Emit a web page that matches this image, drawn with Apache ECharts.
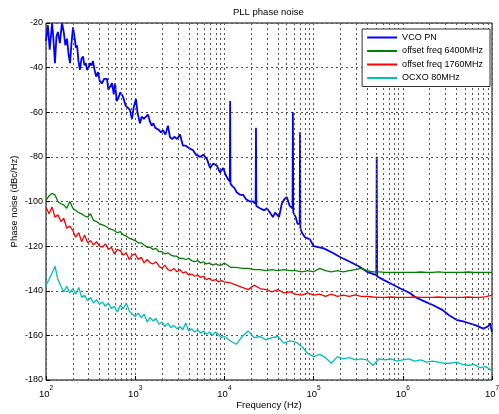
<!DOCTYPE html>
<html>
<head>
<meta charset="utf-8">
<script src="https://cdn.jsdelivr.net/npm/echarts@6/dist/echarts.min.js"></script>
<style>
  html, body { margin: 0; padding: 0; background: #fff; }
  #chart { width: 499px; height: 414px; }
</style>
</head>
<body>
<div id="chart"></div>
<script>
// offset frequencies (Hz), shared by the three reference curves
const freq = [
  100, 108, 117, 126, 136, 147, 158, 171, 185, 200, 215, 233, 251, 271, 293,
  316, 341, 369, 398, 430, 464, 501, 541, 584, 631, 681, 736, 794, 858, 926,
  1000, 1080, 1170, 1260, 1360, 1470, 1580, 1710, 1850, 2000, 2150, 2330, 2510, 2710, 2930,
  3160, 3410, 3690, 3980, 4300, 4640, 5010, 5410, 5840, 6310, 6810, 7360, 7940, 8580, 9260,
  10000, 11700, 13600, 15800, 18500, 21500, 25100, 29300, 34100, 39800, 46400, 54100, 63100, 73600, 85800,
  100000, 117000, 136000, 158000, 185000, 215000, 251000, 293000, 341000, 398000, 464000, 541000, 631000, 736000, 858000,
  1000000, 1170000, 1360000, 1580000, 1850000, 2150000, 2510000, 2930000, 3410000, 3980000, 4640000, 5410000, 6310000, 7360000, 8580000,
  10000000
];

// offset freq 6400MHz (dBc/Hz)
const pn6400 = [
  -99.5, -97.5, -96.3, -97, -100, -101, -101.5, -103, -100, -103, -104, -105, -105.5, -106.5, -107,
  -105.5, -108.5, -109, -110, -110.5, -111, -112, -112.5, -113, -114, -113.5, -115, -115.5, -116.5, -117,
  -117.5, -118.5, -118.5, -119.5, -120.5, -120.5, -121.5, -121, -122.5, -122.5, -123.5, -123, -124, -124.5, -124.5,
  -125.5, -125.5, -126, -125.5, -126.5, -127, -126.5, -127.5, -127, -128, -127.5, -128.5, -128, -128.5, -128.5,
  -127.6, -129.5, -129.5, -130, -130, -130.5, -130.5, -131, -130.5, -131, -130.5, -131, -131, -131.5, -131,
  -131.5, -130, -131, -131.5, -131, -131.5, -131, -130.5, -130, -131, -131.5, -131.5, -131.8, -131.8, -131.8,
  -131.8, -131.8, -131.8, -131.6, -131.8, -131.8, -131.5, -131.8, -131.8, -131.8, -131.8, -131.6, -131.8, -131.8, -131.8,
  -131.8
];

// offset freq 1760MHz (dBc/Hz)
const pn1760 = [
  -102.5, -105.5, -102.5, -107, -106, -109, -107.5, -112, -111, -113, -116, -114, -118, -115, -118.5,
  -117.5, -119.5, -118, -120, -120.5, -119, -121.5, -120.5, -123.5, -121.5, -122, -124, -123, -126, -124,
  -123.5, -126, -125, -127.5, -126, -127.5, -128, -127, -129, -130, -128.5, -130.5, -131, -130, -131.5,
  -130.5, -132, -131.5, -133, -132.5, -133.5, -133, -134, -133.5, -135, -134.5, -135.5, -135, -136, -135.5,
  -136, -136.5, -137.5, -138.5, -139.5, -137.5, -139, -139.5, -140.5, -139.5, -141, -140.5, -141.5, -142, -141,
  -142, -141.5, -142.5, -141.5, -142.5, -142, -142.5, -141.8, -142.5, -142.5, -142.8, -143, -143, -142.8, -143,
  -143, -143, -142.8, -143, -143, -143, -142.8, -143, -143, -143, -143, -142.8, -143, -143, -142.6,
  -142
];

// OCXO 80MHz (dBc/Hz)
const pnOcxo = [
  -137.5, -135, -132, -129, -135, -138, -140.5, -138, -141, -139, -141.5, -138.5, -143, -142, -144.5,
  -143, -145.5, -144, -146, -145, -147, -145.5, -148, -147, -149.5, -146.5, -148, -145.5, -149, -150.5,
  -151.5, -150, -152, -150.5, -154, -152, -153.5, -152.5, -155, -154, -156, -154.5, -156.5, -155.5, -157,
  -156, -157.5, -154.5, -158, -157, -158.5, -157.5, -159, -158, -159.5, -158.5, -160, -158.5, -159.5, -161,
  -160.5, -162.5, -164, -160.5, -158, -161, -160.5, -162, -161, -160.5, -163.5, -162.5, -163, -165, -168,
  -169.5, -168.5, -170, -172.5, -169.5, -170.5, -170, -171, -170.5, -171, -173.5, -170.5, -171, -170.5, -171.5,
  -171, -170.5, -171.5, -171, -172, -171.5, -172, -172.5, -172.5, -172, -173, -173.5, -173, -174.5, -174,
  -176
];

// VCO phase noise, own frequency points (spurs included)
const vcoFreq = [
  100, 105, 110, 117, 121, 126, 131, 136, 143, 151, 158, 165, 172, 179, 186, 193, 201, 210, 216, 223,
  231, 240, 250, 260, 270, 280, 288, 300, 312, 324, 336, 350, 365, 383, 400, 424, 450, 483, 500, 521,
  550, 575, 595, 620, 642, 680, 730, 780, 830, 874, 920, 960, 1020, 1060, 1130, 1180, 1250, 1320, 1390, 1460,
  1530, 1600, 1680, 1750, 1850, 1950, 2050, 2180, 2330, 2450, 2590, 2750, 2950, 3180, 3430, 3700, 4000, 4450, 4800, 5330,
  5800, 6380, 6900, 7500, 8270, 8930, 9700, 10300, 11000, 11500, 11600, 11700, 12200, 13000, 13800, 15000, 16200, 17500, 19300, 21000,
  22400, 22600, 22800, 25000, 28000, 30000, 32500, 35000, 37000, 39000, 41000, 44000, 47000, 50000, 52000, 54000, 58000, 58600, 59200, 63000,
  66000, 69800, 70500, 71200, 74000, 80000, 91000, 100000, 130000, 163000, 200000, 255000, 320000, 398000, 505000, 510000, 515000, 600000, 750000, 940000,
  1200000, 1400000, 1800000, 2200000, 2800000, 3300000, 4000000, 5000000, 6600000, 8000000, 9000000, 9500000, 10000000
];
const vcoPN = [
  -28, -21, -32, -20, -27, -38, -26, -24, -29, -20, -24, -30, -27, -34, -38, -29, -22, -27, -31, -30,
  -37, -41, -36, -35, -39, -38, -41, -40, -38, -39, -37, -41, -44, -42, -46, -47, -45, -45, -50, -50,
  -47, -52, -47, -55, -54, -51, -53, -57, -58, -59, -63, -58, -54, -60, -65, -62, -63, -62, -61, -64,
  -66, -65, -67, -67, -68, -69, -68, -70, -66, -71, -72, -71, -72, -70, -75, -75, -76, -77, -79, -80,
  -79, -81, -85, -83, -84, -87, -85, -88, -90, -91, -55, -92, -93, -94, -96, -97, -97, -99, -100, -100,
  -101, -67, -102, -103, -104, -103, -105, -107, -105, -106, -107, -101, -99, -98, -100, -102, -103, -60, -105, -107,
  -110, -110, -69, -112, -114, -116, -117, -120, -121, -123, -125, -127, -129, -131.5, -133, -80, -133.5, -135, -137, -139,
  -141, -143, -145, -146.5, -148.7, -151, -153, -154, -155.5, -157, -156, -154.5, -158.5
];

const seriesNames = ['VCO PN', 'offset freq 6400MHz', 'offset freq 1760MHz', 'OCXO 80MHz'];
const seriesColors = ['#0000ff', '#008000', '#ff0000', '#00bfbf'];

const pairs = (xs, ys) => xs.map((x, i) => [x, ys[i]]);

// minor decade grid lines (2..9 x 10^n)
const minorLines = [];
for (let d = 2; d < 7; d++) {
  for (let m = 2; m <= 9; m++) minorLines.push({ xAxis: m * Math.pow(10, d) });
}

const gridDash = { color: '#555', type: [2, 3], width: 1 };
const font = 'Liberation Sans';

const chart = echarts.init(document.getElementById('chart'), null, { renderer: 'canvas' });

chart.setOption({
  animation: false,
  textStyle: { fontFamily: font },
  title: {
    text: 'PLL phase noise',
    left: 233,
    top: 7,
    padding: 0,
    textStyle: { fontSize: 9.5, fontWeight: 'normal', color: '#000', fontFamily: font }
  },
  legend: {
    data: seriesNames,
    orient: 'vertical',
    right: 9,
    top: 29,
    z: 100,
    backgroundColor: '#fff',
    borderColor: '#333',
    borderWidth: 1,
    padding: [4, 7, 4, 4],
    itemWidth: 30,
    itemHeight: 10,
    itemGap: 4.5,
    itemStyle: { opacity: 0 },
    textStyle: { fontSize: 9, color: '#000', fontFamily: font }
  },
  grid: {
    left: 46, right: 7, top: 23, bottom: 34,
    outerBoundsMode: 'none',
    containLabel: false,
    show: true, borderColor: '#000', borderWidth: 1, backgroundColor: '#fff'
  },
  xAxis: {
    type: 'log',
    logBase: 10,
    min: 100,
    max: 10000000,
    name: 'Frequency (Hz)',
    nameLocation: 'middle',
    nameGap: 20,
    nameMoveOverlap: false,
    nameTextStyle: { fontSize: 9.5, color: '#000', fontFamily: font },
    axisLine: { show: false },
    axisTick: { inside: true, length: 4, lineStyle: { color: '#000' } },
    splitLine: { show: true, lineStyle: gridDash },
    axisLabel: {
      margin: 5,
      color: '#000',
      formatter: v => '{b|10}{s|' + Math.round(Math.log10(v)) + '}',
      rich: {
        b: { fontSize: 9.5, color: '#000', fontFamily: font, lineHeight: 14, verticalAlign: 'bottom' },
        s: { fontSize: 6.5, color: '#000', fontFamily: font, lineHeight: 14, verticalAlign: 'top' }
      }
    }
  },
  yAxis: {
    type: 'value',
    min: -180,
    max: -20,
    interval: 20,
    name: 'Phase noise (dBc/Hz)',
    nameLocation: 'middle',
    nameGap: 27,
    nameMoveOverlap: false,
    nameTextStyle: { fontSize: 9.5, color: '#000', fontFamily: font },
    axisLine: { show: false },
    axisTick: { inside: true, length: 4, lineStyle: { color: '#000' } },
    splitLine: { show: true, lineStyle: gridDash },
    axisLabel: { margin: 3, fontSize: 9, color: '#000', fontFamily: font }
  },
  series: [
    {
      type: 'line',
      data: [],
      silent: true,
      z: 1,
      markLine: {
        silent: true,
        symbol: 'none',
        label: { show: false },
        lineStyle: gridDash,
        animation: false,
        data: minorLines
      }
    },
    {
      name: seriesNames[0], type: 'line', data: pairs(vcoFreq, vcoPN),
      symbol: 'none', color: seriesColors[0], lineStyle: { width: 1.8 }, z: 3
    },
    {
      name: seriesNames[1], type: 'line', data: pairs(freq, pn6400),
      symbol: 'none', color: seriesColors[1], lineStyle: { width: 1.3 }, z: 4
    },
    {
      name: seriesNames[2], type: 'line', data: pairs(freq, pn1760),
      symbol: 'none', color: seriesColors[2], lineStyle: { width: 1.3 }, z: 5
    },
    {
      name: seriesNames[3], type: 'line', data: pairs(freq, pnOcxo),
      symbol: 'none', color: seriesColors[3], lineStyle: { width: 1.3 }, z: 6
    }
  ]
});
</script>
</body>
</html>
